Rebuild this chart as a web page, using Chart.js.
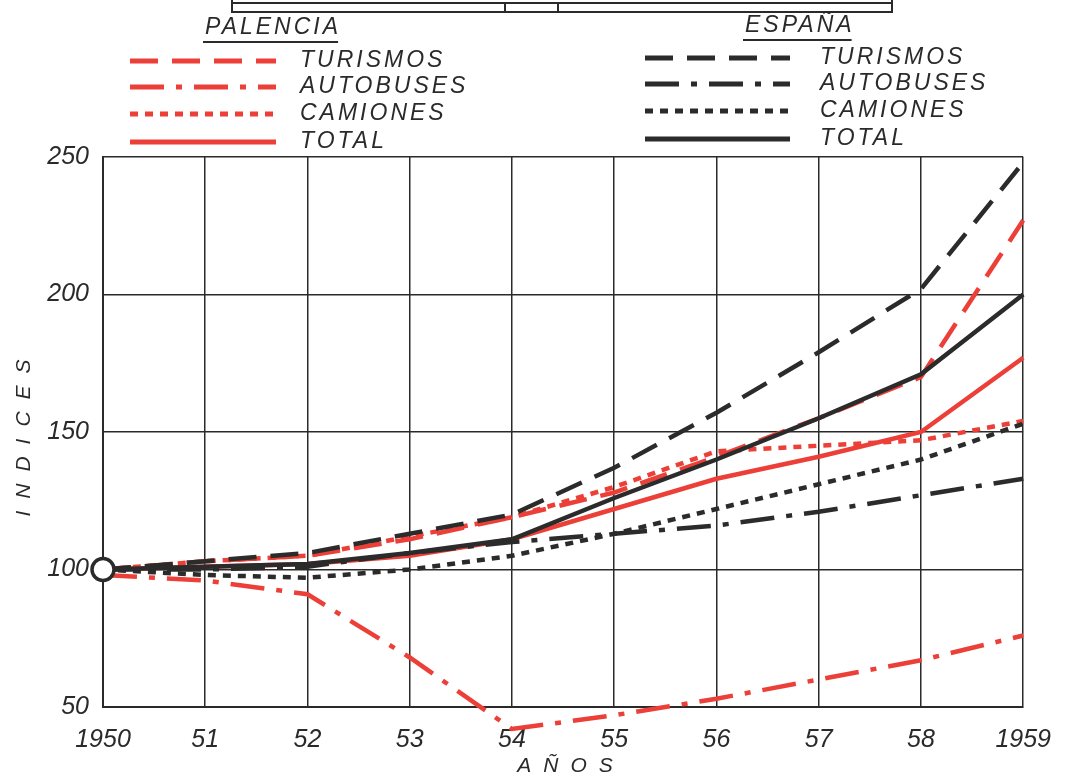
<!DOCTYPE html>
<html>
<head>
<meta charset="utf-8">
<script src="https://cdn.jsdelivr.net/npm/chart.js@4/dist/chart.umd.min.js"></script>
<style>
  html, body { margin: 0; padding: 0; background: #ffffff; }
  #wrap { width: 1069px; height: 778px; position: relative; }
</style>
</head>
<body>
<div id="wrap"><canvas id="c" width="1069" height="778"></canvas></div>
<script>
// ---- data ----
const years = [1950, 1951, 1952, 1953, 1954, 1955, 1956, 1957, 1958, 1959];
const xTickLabels = ['1950', '51', '52', '53', '54', '55', '56', '57', '58', '1959'];
const yTicks = [50, 100, 150, 200, 250];

const espTurismos   = [100, 103, 106, 113, 120, 137, 157, 179, 202, 248];
const espAutobuses  = [100, 100, 101, 106, 110, 113, 116, 121, 127, 133];
const espCamiones   = [100, 98, 97, 100, 105, 113, 122, 131, 140, 153];
const espTotal      = [100, 101, 102, 106, 111, 126, 140, 155, 171, 200];

const palTurismos   = [100, 103, 105, 111, 119, 128, 141, 155, 170, 227];
const palAutobuses  = [98, 96, 91, 68, 42, 47, 53, 60, 67, 76];
const palCamiones   = [100, 103, 105, 112, 119, 130, 143, 145, 147, 154];
const palTotal      = [100, 101, 102, 105, 111, 122, 133, 141, 150, 177];

const groupPalencia = 'PALENCIA';
const groupEspana = 'ESPAÑA';
const seriesNames = ['TURISMOS', 'AUTOBUSES', 'CAMIONES', 'TOTAL'];
const xTitle = 'AÑOS';
const yTitle = 'INDICES';

// ---- styles ----
const RED = '#ec3f38';
const BLK = '#2b2b2b';
const INK = '#2a2a2a';
const FAM = "'Liberation Sans Narrow', 'Liberation Sans', 'DejaVu Sans', sans-serif";
const dashes = {
  TURISMOS: [28, 14],
  AUTOBUSES: [34, 12, 6, 12],
  CAMIONES: [8, 7],
  TOTAL: []
};

const pts = arr => arr.map((v, i) => ({ x: years[i], y: v }));

function ds(label, data, color, kind, extra) {
  return Object.assign({
    label: label,
    data: pts(data),
    borderColor: color,
    backgroundColor: color,
    borderWidth: 4.5,
    borderDash: dashes[kind],
    tension: 0,
    pointRadius: 0,
    fill: false,
    clip: false
  }, extra || {});
}

const datasets = [
  ds(groupEspana + ' ' + seriesNames[3], espTotal, BLK, 'TOTAL', {
    pointRadius: c => c.dataIndex === 0 ? 11 : 0,
    pointBackgroundColor: '#ffffff',
    pointBorderColor: BLK,
    pointBorderWidth: 3.5
  }),
  ds(groupEspana + ' ' + seriesNames[0], espTurismos, BLK, 'TURISMOS'),
  ds(groupEspana + ' ' + seriesNames[1], espAutobuses, BLK, 'AUTOBUSES'),
  ds(groupEspana + ' ' + seriesNames[2], espCamiones, BLK, 'CAMIONES'),
  ds(groupPalencia + ' ' + seriesNames[0], palTurismos, RED, 'TURISMOS'),
  ds(groupPalencia + ' ' + seriesNames[1], palAutobuses, RED, 'AUTOBUSES'),
  ds(groupPalencia + ' ' + seriesNames[2], palCamiones, RED, 'CAMIONES'),
  ds(groupPalencia + ' ' + seriesNames[3], palTotal, RED, 'TOTAL')
];

// custom plugin: header strip, two-column legend, axis titles
const decor = {
  id: 'decor',
  afterDraw(chart) {
    const ctx = chart.ctx;
    const ca = chart.chartArea;
    ctx.save();
    // top strip (cut-off title frame)
    ctx.strokeStyle = INK;
    ctx.lineWidth = 2;
    ctx.beginPath();
    ctx.moveTo(232, 3); ctx.lineTo(892, 3);
    ctx.moveTo(232, 12); ctx.lineTo(892, 12);
    ctx.moveTo(232, 0); ctx.lineTo(232, 13);
    ctx.moveTo(892, 0); ctx.lineTo(892, 13);
    ctx.moveTo(505, 3); ctx.lineTo(505, 12);
    ctx.moveTo(558, 3); ctx.lineTo(558, 12);
    ctx.stroke();

    ctx.font = "italic 23px " + FAM;
    ctx.fillStyle = INK;
    ctx.textBaseline = 'middle';
    ctx.textAlign = 'left';
    if ('letterSpacing' in ctx) ctx.letterSpacing = '3px';

    const groups = [
      { title: groupPalencia, tx: 205, ty: 28, lx0: 130, lx1: 276, textX: 300, color: RED, rows: [61, 87, 114, 142] },
      { title: groupEspana, tx: 745, ty: 26, lx0: 645, lx1: 790, textX: 820, color: BLK, rows: [58, 84, 111, 139] }
    ];
    groups.forEach(g => {
      ctx.fillStyle = INK;
      ctx.fillText(g.title, g.tx, g.ty);
      const w = ctx.measureText(g.title).width;
      ctx.lineWidth = 2;
      ctx.strokeStyle = INK;
      ctx.setLineDash([]);
      ctx.beginPath();
      ctx.moveTo(g.tx - 2, g.ty + 14); ctx.lineTo(g.tx + w - 3, g.ty + 14);
      ctx.stroke();
      seriesNames.forEach((name, i) => {
        const y = g.rows[i];
        ctx.strokeStyle = g.color;
        ctx.lineWidth = 5;
        ctx.setLineDash(dashes[name]);
        ctx.beginPath();
        ctx.moveTo(g.lx0, y); ctx.lineTo(g.lx1, y);
        ctx.stroke();
        ctx.setLineDash([]);
        ctx.fillStyle = INK;
        ctx.fillText(name, g.textX, y);
      });
    });

    // axis titles
    ctx.font = "italic 21px " + FAM;
    if ('letterSpacing' in ctx) ctx.letterSpacing = '12px';
    ctx.textAlign = 'center';
    ctx.fillStyle = INK;
    ctx.fillText(xTitle, (ca.left + ca.right) / 2 + 8, 766);
    ctx.translate(24, (ca.top + ca.bottom) / 2);
    ctx.rotate(-Math.PI / 2);
    ctx.fillText(yTitle, 0, 0);
    ctx.restore();
  }
};

new Chart(document.getElementById('c'), {
  type: 'line',
  data: { datasets: datasets },
  plugins: [decor],
  options: {
    responsive: false,
    animation: false,
    devicePixelRatio: 1,
    layout: { padding: { top: 157, right: 43, left: 0, bottom: 0 } },
    plugins: { legend: { display: false }, tooltip: { enabled: false }, title: { display: false } },
    scales: {
      x: {
        type: 'linear',
        min: 1950,
        max: 1959,
        afterBuildTicks: s => { s.ticks = years.map(v => ({ value: v })); },
        afterFit: s => { s.height = 71; },
        ticks: {
          callback: (v) => { const i = years.indexOf(v); return i >= 0 ? xTickLabels[i] : ''; },
          font: { family: FAM, size: 25, style: 'italic' },
          color: INK,
          padding: 18,
          maxRotation: 0,
          autoSkip: false
        },
        grid: { color: INK, lineWidth: 1.5, drawTicks: false },
        border: { color: INK, width: 2 }
      },
      y: {
        min: 50,
        max: 250,
        afterBuildTicks: s => { s.ticks = yTicks.map(v => ({ value: v })); },
        afterFit: s => { s.width = 103; },
        ticks: {
          font: { family: FAM, size: 25, style: 'italic' },
          color: INK,
          padding: 14
        },
        grid: { color: INK, lineWidth: 1.5, drawTicks: false },
        border: { color: INK, width: 2 }
      }
    }
  }
});
</script>
</body>
</html>
